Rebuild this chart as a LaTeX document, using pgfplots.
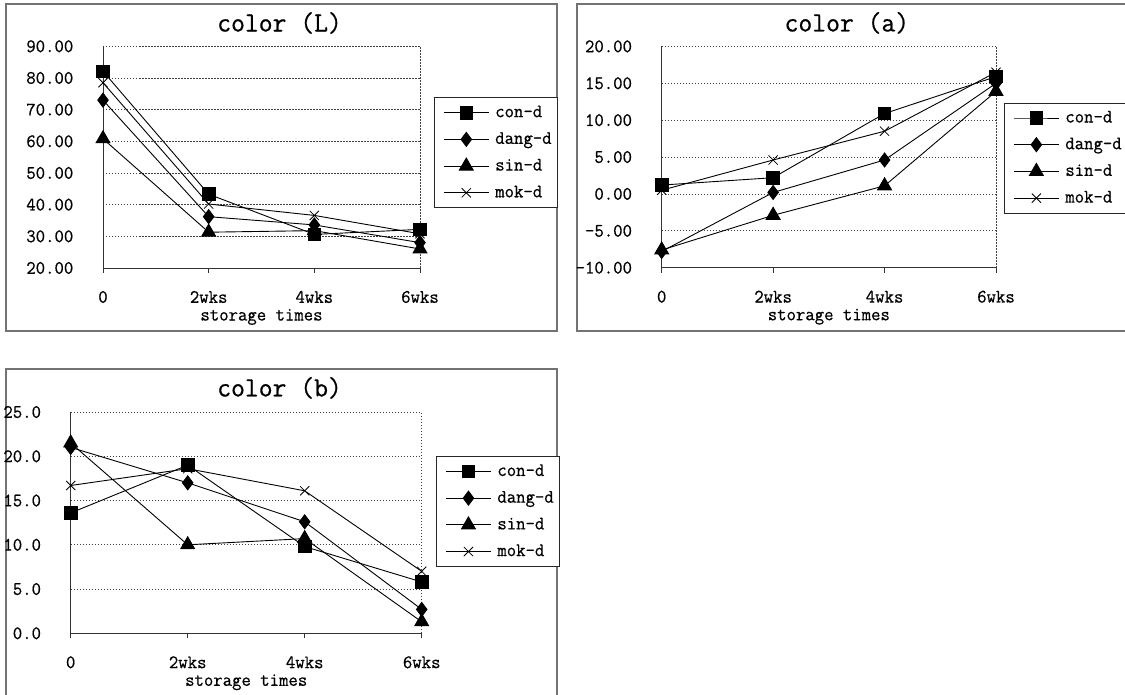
\documentclass[border=0pt]{standalone}
\usepackage{fontspec}
\setmainfont{Latin Modern Mono}[FakeStretch=0.96, FakeBold=0.6]
\usepackage{pgfplots}
\pgfplotsset{compat=1.18}

\pgfplotsset{
  excel/.style={
    scale only axis,
    anchor=south west,
    xmin=0, xmax=3,
    xtick={0,1,2,3},
    xticklabels={0,2wks,4wks,6wks},
    axis x line*=bottom, axis y line*=left,
    ymajorgrids,
    major grid style={black!75, dash pattern=on 1.5pt off 1.5pt, line width=0.7pt},
    axis line style={black!80, line width=0.9pt},
    tick align=outside,
    major tick length=5pt,
    ytick style={draw=none},
    xtick style={black!80, line width=0.8pt},
    extra x ticks={3}, extra x tick labels={},
    extra x tick style={grid=major, major tick length=0pt},
    /pgf/number format/assume math mode=true,
    ticklabel style={font=\fontsize{19}{22}\selectfont},
    xticklabel style={anchor=center, yshift=-24pt},
    yticklabel style={anchor=east, inner sep=0pt, xshift=-24.5pt},
    xlabel={storage times},
    xlabel style={font=\fontsize{19}{22}\selectfont, at={(axis description cs:0.5,0)}, anchor=center, yshift=-49pt},
    title style={font=\fontsize{28}{32}\selectfont, anchor=center},
    legend style={draw=black!85, line width=0.8pt, anchor=north west,
      font=\fontsize{19}{22}\selectfont, inner xsep=4pt, inner ysep=5.5pt,
      nodes={inner sep=2pt, text height=12pt, text depth=3pt},
      row sep=7.7pt, column sep=4pt},
    legend cell align=left,
    legend image code/.code={%
      \path (0pt,0pt) (50pt,0pt);
      \draw[mark repeat=2,mark phase=2,##1] plot coordinates {(5pt,0pt) (27.5pt,0pt) (50pt,0pt)};},
    every axis plot/.append style={black, line width=0.9pt},
  },
  sq/.style={mark=square*, mark size=6.3pt, mark options={solid, fill=black}},
  di/.style={mark=diamond*, mark size=7pt, mark options={solid, fill=black}},
  tr/.style={mark=triangle*, mark size=8pt, mark options={solid, fill=black}},
  xx/.style={mark=x, mark size=6.5pt, mark options={solid, line width=0.8pt}},
}

\begin{document}
\begin{tikzpicture}
\useasboundingbox (0pt,0pt) rectangle (1125pt,695pt);

% chart frames
\draw[black!55, line width=1.2pt] (6pt,691pt) rectangle (557pt,364pt);
\draw[black!55, line width=1.2pt] (577pt,691pt) rectangle (1130pt,364pt);
\draw[black!55, line width=1.2pt] (6pt,326pt) rectangle (557pt,-5pt);

% color (L)
\begin{axis}[excel, at={(103pt,427pt)}, width=317pt, height=221.7pt,
  ymin=20, ymax=90, ytick={20,30,...,90},
  yticklabel style={/pgf/number format/.cd, fixed, fixed zerofill, precision=2},
  title={color (L)}, title style={at={(axis description cs:0.557,1.078)}},
  legend style={at={(axis description cs:1.044,0.770)}}]
\addplot[sq] coordinates {(0,82.1) (1,43.3) (2,30.6) (3,32.2)};
\addplot[di] coordinates {(0,73.0) (1,36.2) (2,33.6) (3,28.0)};
\addplot[tr] coordinates {(0,60.8) (1,31.3) (2,31.8) (3,26.0)};
\addplot[xx] coordinates {(0,78.5) (1,40.2) (2,36.6) (3,30.8)};
\legend{con-d,dang-d,sin-d,mok-d}
\end{axis}

% color (a)
\begin{axis}[excel, at={(661.7pt,427.3pt)}, width=334.3pt, height=221.3pt,
  ymin=-10, ymax=20, ytick={-10,-5,...,20},
  yticklabel style={/pgf/number format/.cd, fixed, fixed zerofill, precision=2},
  title={color (a)}, title style={at={(axis description cs:0.554,1.079)}},
  legend style={at={(axis description cs:1.024,0.746)}}]
\addplot[sq] coordinates {(0,1.2) (1,2.2) (2,10.9) (3,15.9)};
\addplot[di] coordinates {(0,-7.8) (1,0.2) (2,4.6) (3,15.0)};
\addplot[tr] coordinates {(0,-7.6) (1,-2.9) (2,1.1) (3,13.9)};
\addplot[xx] coordinates {(0,0.5) (1,4.6) (2,8.5) (3,16.5)};
\legend{con-d,dang-d,sin-d,mok-d}
\end{axis}

% color (b)
\begin{axis}[excel, at={(70.7pt,61.7pt)}, width=351pt, height=221.25pt,
  ymin=0, ymax=25, ytick={0,5,...,25},
  yticklabel style={/pgf/number format/.cd, fixed, fixed zerofill, precision=1},
  title={color (b)}, title style={at={(axis description cs:0.595,1.082)}},
  legend style={at={(axis description cs:1.041,0.801)}}]
\addplot[sq] coordinates {(0,13.6) (1,19.0) (2,9.8) (3,5.8)};
\addplot[di] coordinates {(0,21.0) (1,17.0) (2,12.6) (3,2.7)};
\addplot[tr] coordinates {(0,21.5) (1,10.0) (2,10.7) (3,1.3)};
\addplot[xx] coordinates {(0,16.7) (1,18.6) (2,16.1) (3,7.0)};
\legend{con-d,dang-d,sin-d,mok-d}
\end{axis}
\end{tikzpicture}
\end{document}
